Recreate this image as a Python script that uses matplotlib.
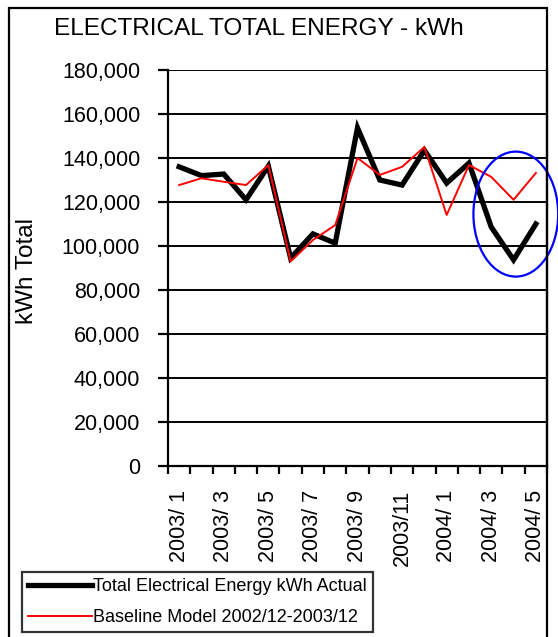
import numpy as np
import matplotlib
matplotlib.use('Agg')
import matplotlib.pyplot as plt
from matplotlib.patches import Ellipse, Rectangle

plt.rcParams['font.family'] = ['Liberation Sans', 'DejaVu Sans']

months = ['2003/ 1', '2003/ 2', '2003/ 3', '2003/ 4', '2003/ 5', '2003/ 6', '2003/ 7', '2003/ 8',
          '2003/ 9', '2003/10', '2003/11', '2003/12', '2004/ 1', '2004/ 2', '2004/ 3', '2004/ 4', '2004/ 5']
actual = [136000, 132000, 132700, 121000, 136300, 94500, 105500, 101300, 153700,
          130000, 127700, 143500, 128600, 137700, 108600, 93700, 110000]
baseline = [127700, 130800, 129200, 127700, 136800, 93000, 102700, 109500, 140000,
            132300, 136000, 145000, 114100, 136800, 131400, 121000, 133200]
yticks = list(range(0, 180001, 20000))

W, H = 558, 637
fig = plt.figure(figsize=(W / 100, H / 100), dpi=100)
ax = fig.add_axes([168 / W, 1 - 466 / H, (547 - 168) / W, (466 - 70) / H])

x = np.arange(len(months))
ax.plot(x, actual, color='black', lw=3.8, solid_joinstyle='miter',
        label='Total Electrical Energy kWh Actual', zorder=3)
ax.plot(x, baseline, color='red', lw=1.4, label='Baseline Model 2002/12-2003/12', zorder=4)

ax.set_xlim(-0.5, len(months) - 0.5)
ax.set_ylim(0, 180000)
ax.set_yticks(yticks)
ax.set_yticklabels(['{:,}'.format(v) for v in yticks], fontsize=15.5)
ax.yaxis.grid(True, color='black', lw=1.4)
ax.set_axisbelow(True)

ax.set_xticks(x[::2])
ax.set_xticklabels(months[::2], rotation=90, fontsize=15.5)
ax.set_xticks(np.arange(-0.5, len(months)), minor=True)
ax.tick_params(axis='x', which='major', length=0, pad=17)
ax.tick_params(axis='x', which='minor', length=6, width=1.6, direction='out')
ax.tick_params(axis='y', length=7, width=1.6, pad=13)

ax.spines['top'].set_visible(False)
for s in ['left', 'bottom', 'right']:
    ax.spines[s].set_linewidth(1.6)

# blue ring around the last three months
ell = Ellipse((15.1, 114500), 3.8, 56800, fill=False, edgecolor='blue', lw=1.6, clip_on=False, zorder=5)
ax.add_patch(ell)

# outer chart border
fig.patches.append(Rectangle((9 / W, -0.05), (547 - 9) / W, 1.05 - 8 / H, transform=fig.transFigure,
                             fill=False, edgecolor='black', lw=1.6))

fig.text(259 / W, 1 - 29 / H, 'ELECTRICAL TOTAL ENERGY - kWh', ha='center', va='center', fontsize=17.6)
fig.text(27 / W, 1 - 271 / H, 'kWh Total', rotation=90, ha='center', va='center', fontsize=17.5)

leg = fig.legend(loc='upper left', bbox_to_anchor=(22 / W, 1 - 572 / H), fontsize=13,
                 frameon=True, fancybox=False, edgecolor='black', handlelength=3.5,
                 handletextpad=0.1, borderpad=0.35, labelspacing=0.75, borderaxespad=0)
leg.get_frame().set_linewidth(1.6)

fig.savefig('out.png', dpi=100)
